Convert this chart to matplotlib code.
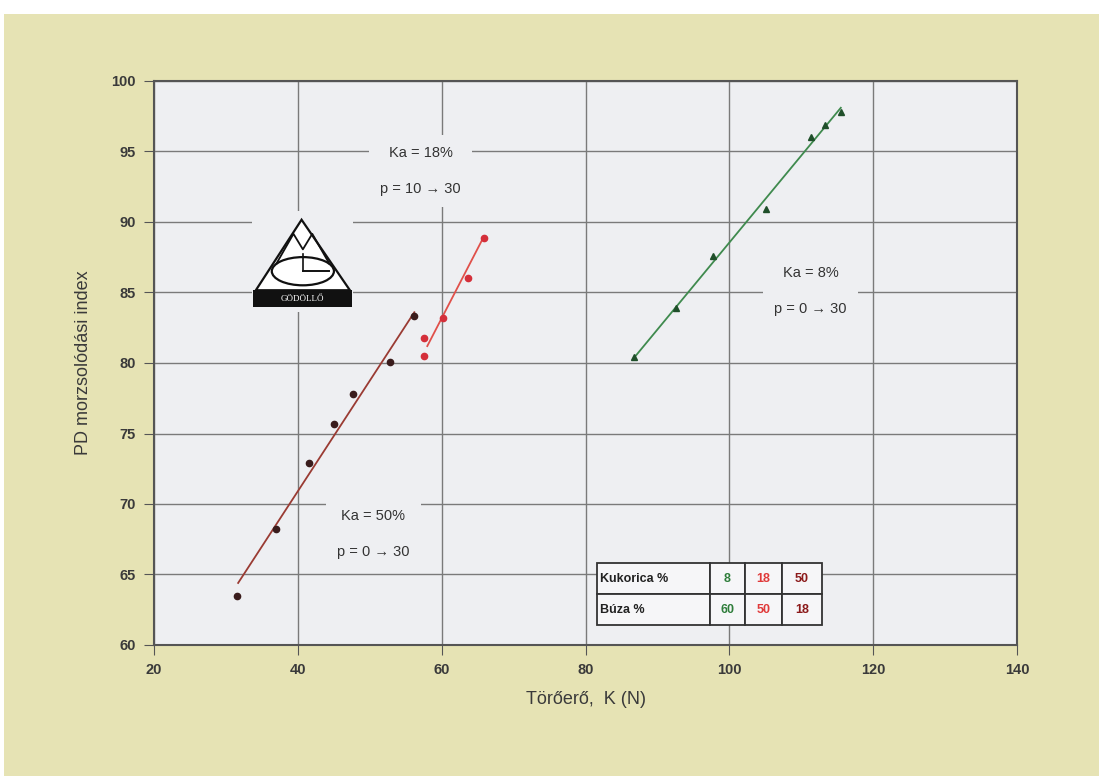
import numpy as np
import matplotlib
matplotlib.use("Agg")
from matplotlib import pyplot as plt
from matplotlib.patches import Rectangle, Polygon, Ellipse

x_ka50 = [31.6, 36.9, 41.5, 45.0, 47.7, 52.8, 56.2]
y_ka50 = [63.5, 68.2, 72.9, 75.7, 77.8, 80.1, 83.3]
x_ka18 = [57.5, 57.6, 60.2, 63.6, 65.9]
y_ka18 = [80.5, 81.8, 83.2, 86.0, 88.9]
x_ka8 = [86.8, 92.6, 97.7, 105.1, 111.3, 113.3, 115.5]
y_ka8 = [80.4, 83.9, 87.6, 90.9, 96.0, 96.9, 97.8]

# fitted lines (end points)
fit_x50 = [31.7, 56.2]
fit_y50 = [64.4, 83.6]
fit_x18 = [58.0, 65.8]
fit_y18 = [81.2, 88.9]
fit_x8 = [86.8, 115.5]
fit_y8 = [80.4, 98.1]

# table
row_labels = ['Kukorica %', 'Búza %']
kukorica = ['8', '18', '50']
buza = ['60', '50', '18']

plt.rcParams['font.family'] = ['Liberation Sans', 'DejaVu Sans']

fig = plt.figure(figsize=(10.99, 7.76), dpi=100, facecolor='white')
# yellow page behind the chart
fig.patches.append(Rectangle((4 / 1099, 0), 1, (776 - 14) / 776, transform=fig.transFigure,
                             facecolor='#e6e3b4', edgecolor='none', zorder=-10))

ax = fig.add_axes([154 / 1099, (776 - 645) / 776, 863 / 1099, 564 / 776])
ax.set_facecolor('#eeeff2')
ax.set_xlim(20, 140)
ax.set_ylim(60, 100)
ax.set_xticks(np.arange(20, 141, 20))
ax.set_yticks(np.arange(60, 101, 5))
ax.grid(True, color='#7a7a7a', linewidth=1.0)
ax.set_axisbelow(True)
for s in ax.spines.values():
    s.set_color('#555555')
    s.set_linewidth(1.5)
ax.tick_params(direction='out', length=7, color='#555555', labelsize=10.5,
               labelcolor='#3a3a3a', pad=6)
for lab in ax.get_xticklabels() + ax.get_yticklabels():
    lab.set_fontweight('bold')

ax.set_xlabel('Törőerő,  K (N)', fontsize=13, color='#3a3a3a', labelpad=10)
ax.set_ylabel('PD morzsolódási index', fontsize=13, color='#3a3a3a', labelpad=14)

# series
ax.plot(fit_x50, fit_y50, color='#9a3b33', linewidth=1.3, zorder=3)
ax.plot(x_ka50, y_ka50, 'o', color='#3a1c1c', markersize=4.5, zorder=4)
ax.plot(fit_x18, fit_y18, color='#e0504a', linewidth=1.3, zorder=3)
ax.plot(x_ka18, y_ka18, 'o', color='#d42f3a', markersize=4.5, zorder=4)
ax.plot(fit_x8, fit_y8, color='#3f8a4e', linewidth=1.3, zorder=3)
ax.plot(x_ka8, y_ka8, '^', color='#1f4f2a', markersize=5, zorder=4)

# labels with white boxes that cut the grid lines
box = dict(facecolor='#eeeff2', edgecolor='none', pad=8)
ax.text(57.1, 93.6, 'Ka = 18%\n\np = 10 → 30', ha='center', va='center', fontsize=10.5,
        color='#333333', linespacing=1.35, bbox=box, zorder=2)
ax.text(111.3, 85.1, 'Ka = 8%\n\np = 0 → 30', ha='center', va='center', fontsize=10.5,
        color='#333333', linespacing=1.35, bbox=box, zorder=2)
ax.text(50.5, 67.85, 'Ka = 50%\n\np = 0 → 30', ha='center', va='center', fontsize=10.5,
        color='#333333', linespacing=1.35, bbox=box, zorder=2)

# logo
T = ax.transAxes
ax.add_patch(Rectangle((0.113, 0.59), 0.118, 0.18, transform=T, facecolor='#eeeff2',
                       edgecolor='none', zorder=2))
x0, x1, yb, ya, xa = 0.118, 0.227, 0.629, 0.754, 0.171


def loc(u, v):
    return (x0 + u * (x1 - x0), yb + v * (ya - yb))


ax.add_patch(Polygon([loc(0, 0), loc(1, 0), (xa, ya)], closed=True, transform=T,
                     facecolor='white', edgecolor='#111111', linewidth=1.6, zorder=5))
mx = [loc(u, v) for u, v in [(0.22, 0.38), (0.40, 0.80), (0.50, 0.58), (0.60, 0.80), (0.78, 0.38)]]
ax.plot([p[0] for p in mx], [p[1] for p in mx], color='#111111', linewidth=1.3,
        transform=T, zorder=6)
cx, cy = loc(0.5, 0.27)
ax.add_patch(Ellipse((cx, cy), 0.072, 0.05, transform=T, facecolor='none',
                     edgecolor='#111111', linewidth=1.6, zorder=6))
gx0, gy = loc(0.5, 0.27)
ax.plot([gx0, gx0 + 0.03], [gy, gy], color='#111111', linewidth=1.4, transform=T, zorder=6)
ax.plot([gx0 - 0.0, gx0], [gy, gy + 0.03], color='#111111', linewidth=1.2, transform=T, zorder=6)
ax.add_patch(Rectangle((0.115, 0.599), 0.114, 0.03, transform=T, facecolor='#111111',
                       edgecolor='none', zorder=6))
ax.text(0.172, 0.614, 'GÖDÖLLŐ', transform=T, ha='center', va='center', fontsize=6.5,
        color='white', family=['Liberation Serif', 'DejaVu Serif'], zorder=7)

# composition table
cell_text = [[row_labels[0]] + kukorica, [row_labels[1]] + buza]
widths = np.array([113, 35, 37, 40]) / 225.0
tab = ax.table(cellText=cell_text, colWidths=list(widths), cellLoc='center',
               bbox=[0.513, 0.035, 0.261, 0.11], zorder=8)
tab.auto_set_font_size(False)
val_colors = ['#2e7d3a', '#e03a3a', '#8b1a1a']
for (r, c), cell in tab.get_celld().items():
    cell.set_facecolor('#f6f6f8')
    cell.set_edgecolor('#333333')
    cell.set_linewidth(1.3)
    txt = cell.get_text()
    txt.set_fontsize(9)
    txt.set_fontweight('bold')
    if c == 0:
        txt.set_ha('left')
        cell.PAD = 0.03
        txt.set_color('#222222')
    else:
        txt.set_color(val_colors[c - 1])

fig.savefig('out.png', dpi=100, facecolor=fig.get_facecolor())
